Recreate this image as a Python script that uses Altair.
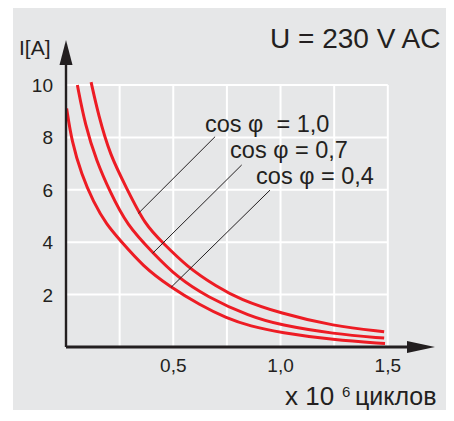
import altair as alt
import pandas as pd

# ---------- data ----------
x_04 = [0.003, 0.027, 0.073, 0.127, 0.190, 0.252, 0.360, 0.485, 0.625, 0.749, 0.858, 0.998, 1.246, 1.487]
y_04 = [9.11, 7.84, 6.57, 5.55, 4.66, 4.08, 3.07, 2.30, 1.60, 1.10, 0.80, 0.55, 0.27, 0.13]

x_07 = [0.053, 0.089, 0.143, 0.205, 0.283, 0.407, 0.516, 0.656, 0.858, 0.998, 1.246, 1.483]
y_07 = [10.0, 8.48, 7.08, 5.93, 4.66, 3.58, 2.68, 1.92, 1.16, 0.84, 0.50, 0.34]

x_10 = [0.117, 0.151, 0.205, 0.283, 0.368, 0.454, 0.563, 0.703, 0.811, 0.998, 1.246, 1.483]
y_10 = [10.11, 8.86, 7.33, 6.06, 4.66, 3.96, 3.07, 2.30, 1.82, 1.29, 0.80, 0.58]

series_names = ["cos φ = 0,4", "cos φ = 0,7", "cos φ = 1,0"]

label_text = ["cos φ\u00a0\u00a0= 1,0", "cos φ = 0,7", "cos φ = 0,4"]
label_x = [0.648, 0.765, 0.886]
label_y = [8.22, 7.20, 6.21]
lead_x1 = [0.695, 0.819, 0.951]
lead_y1 = [8.03, 6.95, 5.99]
lead_x2 = [0.337, 0.404, 0.490]
lead_y2 = [5.10, 3.58, 2.28]

x_ticks = [0.5, 1.0, 1.5]
x_tick_labels = ["0,5", "1,0", "1,5"]
y_ticks = [2, 4, 6, 8, 10]
y_tick_labels = ["2", "4", "6", "8", "10"]
grid_x = [0.25, 0.5, 0.75, 1.0, 1.25, 1.5]
grid_y = [2, 4, 6, 8, 10]

title_text = "U = 230 V AC"
y_title = "I[A]"
x_title_a = "x 10"
x_title_exp = "6"
x_title_b = "циклов"

# ---------- styles ----------
RED = "#ed1c24"
DARK = "#231f20"
GRAY = "#e6e7e8"
FONT = "Liberation Sans"
W, H = 369, 307

xs = alt.Scale(domain=[0, 1.72], nice=False, zero=False)
ys = alt.Scale(domain=[0, 11.72], nice=False, zero=False)

rows = []
for name, xv, yv in zip(series_names, [x_04, x_07, x_10], [y_04, y_07, y_10]):
    for a, b in zip(xv, yv):
        rows.append({"series": name, "x": a, "y": b})
curves_df = pd.DataFrame(rows)

one = pd.DataFrame({"a": [0]})

bg = alt.Chart(one).mark_rect(color=GRAY).encode(
    x=alt.value(-53), x2=alt.value(W + 40), y=alt.value(-40), y2=alt.value(H + 80)
)

vgrid = alt.Chart(pd.DataFrame({"gx": grid_x})).mark_rule(color="white", strokeWidth=2).encode(
    x=alt.X("gx:Q", scale=xs, axis=None),
    y=alt.Y(datum=0, scale=ys, axis=None),
    y2=alt.Y2(datum=max(grid_y)),
)
hgrid = alt.Chart(pd.DataFrame({"gy": grid_y})).mark_rule(color="white", strokeWidth=2).encode(
    y=alt.Y("gy:Q", scale=ys, axis=None),
    x=alt.X(datum=0, scale=xs, axis=None),
    x2=alt.X2(datum=max(grid_x)),
)

curves = alt.Chart(curves_df).mark_line(color=RED, strokeWidth=3, interpolate="basis").encode(
    x=alt.X("x:Q", scale=xs, axis=None),
    y=alt.Y("y:Q", scale=ys, axis=None),
    detail="series:N",
    order="x:Q",
)

lead_df = pd.DataFrame({"x1": lead_x1, "y1": lead_y1, "x2": lead_x2, "y2": lead_y2})
leaders = alt.Chart(lead_df).mark_rule(color=DARK, strokeWidth=1).encode(
    x=alt.X("x1:Q", scale=xs, axis=None), y=alt.Y("y1:Q", scale=ys, axis=None),
    x2="x2:Q", y2="y2:Q",
)

lab_df = pd.DataFrame({"t": label_text, "x": label_x, "y": label_y})
labels = alt.Chart(lab_df).mark_text(
    align="left", baseline="alphabetic", fontSize=23.5, font=FONT, color=DARK
).encode(
    x=alt.X("x:Q", scale=xs, axis=None), y=alt.Y("y:Q", scale=ys, axis=None), text="t:N"
)

xtick_df = pd.DataFrame({"v": x_ticks, "t": x_tick_labels})
xticks = alt.Chart(xtick_df).mark_text(
    align="center", baseline="alphabetic", fontSize=19, font=FONT, color=DARK
).encode(x=alt.X("v:Q", scale=xs, axis=None), y=alt.value(H + 25), text="t:N")

ytick_df = pd.DataFrame({"v": y_ticks, "t": y_tick_labels})
yticks = alt.Chart(ytick_df).mark_text(
    align="right", baseline="alphabetic", fontSize=19, font=FONT, color=DARK, dy=7
).encode(y=alt.Y("v:Q", scale=ys, axis=None), x=alt.value(-13), text="t:N")

yaxis = alt.Chart(one).mark_rule(color=DARK, strokeWidth=2.4).encode(
    x=alt.value(0), y=alt.value(20), y2=alt.value(H)
)
xaxis = alt.Chart(one).mark_rule(color=DARK, strokeWidth=3).encode(
    y=alt.value(H), x=alt.value(0), x2=alt.value(W - 22)
)
yarrow = alt.Chart(one).mark_point(
    shape="M0,-1L0.52,1L-0.52,1Z", filled=True, color=DARK, size=625, opacity=1, strokeWidth=0
).encode(x=alt.value(0), y=alt.value(12.5))
xarrow = alt.Chart(one).mark_point(
    shape="M1,0L-1,0.43L-1,-0.43Z", filled=True, color=DARK, size=784, opacity=1, strokeWidth=0
).encode(x=alt.value(W - 14), y=alt.value(H))


def txt(s, x, y, size):
    return alt.Chart(pd.DataFrame({"t": [s]})).mark_text(
        align="left", baseline="alphabetic", fontSize=size, font=FONT, color=DARK
    ).encode(x=alt.value(x), y=alt.value(y), text="t:N")


t_title = txt(title_text, 204, 8.3, 28)
t_ylab = txt(y_title, -47, 15, 21)
t_xa = txt(x_title_a, 219, 365, 26)
t_xe = txt(x_title_exp, 276, 357, 15)
t_xb = txt(x_title_b, 289, 365, 25)

chart = alt.layer(
    bg, vgrid, hgrid, curves, leaders, labels, xticks, yticks, yaxis, xaxis, yarrow, xarrow,
    t_title, t_ylab, t_xa, t_xe, t_xb,
).properties(
    width=W, height=H,
    padding={"left": 58, "top": 32, "right": 11, "bottom": 63},
    autosize=alt.AutoSizeParams(type="none"),
    background="white",
).configure_view(stroke=None)

chart.save("out.html", embed_options={"renderer": "svg", "actions": False})
